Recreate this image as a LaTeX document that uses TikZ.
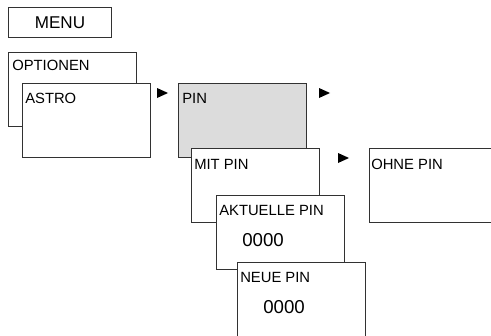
\documentclass[tikz,border=0pt]{standalone}
\usepackage{fontspec}
\setmainfont{Liberation Sans}
\usepackage{tikz}
\usetikzlibrary{positioning}
\definecolor{boxline}{RGB}{50,50,50}
\definecolor{pingray}{RGB}{220,220,220}
\tikzset{
  menubox/.style={draw=boxline, line width=0.7pt, fill=white, anchor=north west, inner sep=0pt,
    minimum width=96pt, minimum height=55.5pt},
  boxtitle/.style={anchor=base west, inner sep=0pt, font=\fontsize{11.1}{13}\selectfont},
  pinval/.style={anchor=base west, inner sep=0pt, font=\fontsize{14}{16}\selectfont},
  pointer/.style={fill=black}
}
\newcommand{\pointmark}[1]{\fill[pointer] #1 -- ++(11,5) -- ++(-11,5) -- cycle;}

\begin{document}
\begin{tikzpicture}[x=0.75pt, y=-0.75pt]
  \useasboundingbox (0,0) rectangle (491,335);

  % top entry
  \node[draw=boxline, line width=0.7pt, anchor=north west, minimum width=77.25pt, minimum height=22.5pt,
        font=\fontsize{12.8}{14}\selectfont] (menu) at (8,7) {MENU};

  % left column
  \node[menubox] (optionen) at (8,52) {};
  \node[boxtitle] (optionenlbl) at (12,70) {OPTIONEN};
  \node[menubox] (astro) at (22,83) {};
  \node[boxtitle] (astrolbl) at (25,103) {ASTRO};
  \pointmark{(157,88)}

  % pin branch
  \node[menubox, fill=pingray] (pin) at (178,83) {};
  \node[boxtitle] (pinlbl) at (182,103) {PIN};
  \pointmark{(319,88)}

  \node[menubox] (mitpin) at (191,148) {};
  \node[boxtitle] (mitpinlbl) at (194,169) {MIT PIN};
  \pointmark{(338,153)}

  % cut off at the right edge
  \node[menubox, minimum width=110pt] (ohnepin) at (369,148) {};
  \node[boxtitle] (ohnepinlbl) at (371,169) {OHNE PIN};

  % pin entry
  \node[menubox] (aktpin) at (216,195) {};
  \node[boxtitle] (aktpinlbl) at (219,215) {AKTUELLE PIN};
  \node[pinval] (aktval) at (242,246) {0000};

  \node[menubox, minimum height=70pt] (neupin) at (237,262) {};
  \node[boxtitle] (neupinlbl) at (240,282) {NEUE PIN};
  \node[pinval] (neuval) at (263,313) {0000};
\end{tikzpicture}
\end{document}
